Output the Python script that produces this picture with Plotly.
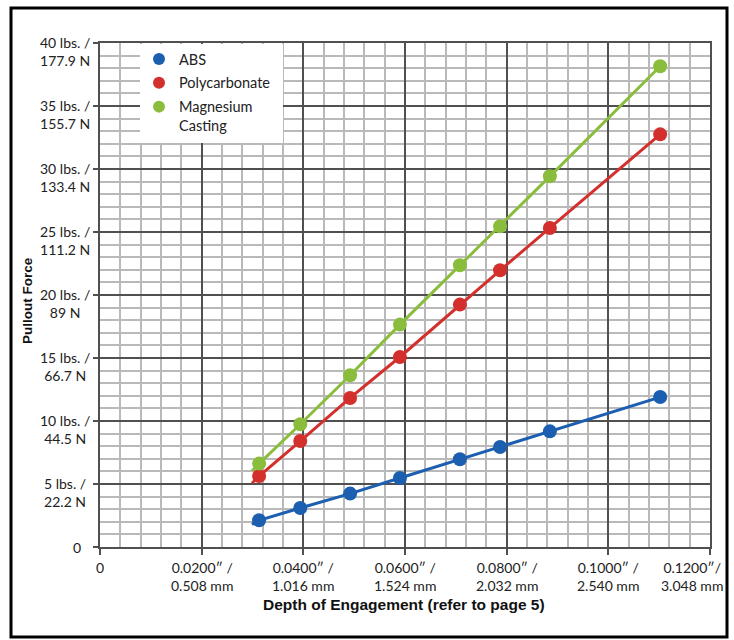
import plotly.graph_objects as go

# ---------------- data ----------------
depth_in = [0.0313, 0.0394, 0.0492, 0.0590, 0.0708, 0.0787, 0.0885, 0.1102]
abs_lbs = [2.12, 3.10, 4.24, 5.48, 6.96, 7.94, 9.18, 11.90]
pc_lbs = [5.63, 8.41, 11.83, 15.08, 19.24, 21.96, 25.32, 32.75]
mg_lbs = [6.62, 9.74, 13.63, 17.65, 22.36, 25.45, 29.42, 38.15]

# start of each drawn line (the line begins a little before the first point)
line_start_x = 0.0299
abs_line_start = 1.80
pc_line_start = 5.06
mg_line_start = 6.03

series_names = ["ABS", "Polycarbonate", "Magnesium<br>Casting"]
series_colors = ["#1c5eb0", "#d3302d", "#8bbd3d"]

y_tick_vals = [5, 10, 15, 20, 25, 30, 35, 40]
y_tick_lbs = ["5 lbs. /", "10 lbs. /", "15 lbs. /", "20 lbs. /", "25 lbs. /",
              "30 lbs. /", "35 lbs. /", "40 lbs. /"]
y_tick_n = ["22.2 N", "44.5 N", "66.7 N", "89 N", "111.2 N", "133.4 N",
            "155.7 N", "177.9 N"]

x_tick_vals = [0.02, 0.04, 0.06, 0.08, 0.10, 0.12]
x_tick_in = ["0.0200\u2033 /", "0.0400\u2033 /", "0.0600\u2033 /", "0.0800\u2033 /",
             "0.1000\u2033 /", "0.1200\u2033/"]
x_tick_mm = ["0.508 mm", "1.016 mm", "1.524 mm", "2.032 mm", "2.540 mm", "3.048 mm"]

x_title = "Depth of Engagement (refer to page 5)"
y_title = "Pullout Force"

# ---------------- layout geometry ----------------
W, H = 734, 640
ML, MR, MT, MB = 100, 24, 43, 93
PW, PH = W - ML - MR, H - MT - MB


def px_x(px):
    return (px - ML) / PW


def px_y(py):
    return (H - MB - py) / PH


LABEL_FONT = "Lato, 'Open Sans', sans-serif"
BOLD_FONT = "'Liberation Sans', Arial, sans-serif"
DARK = "#505050"

fig = go.Figure()

series = [
    (abs_lbs, abs_line_start),
    (pc_lbs, pc_line_start),
    (mg_lbs, mg_line_start),
]
for i, ((vals, start), name, color) in enumerate(zip(series, series_names, series_colors)):
    fig.add_trace(go.Scatter(
        x=[line_start_x] + depth_in, y=[start] + vals, mode="lines",
        line=dict(color=color, width=3), showlegend=False, hoverinfo="skip",
    ))
    fig.add_trace(go.Scatter(
        x=depth_in, y=vals, mode="markers", name=name,
        marker=dict(color=color, size=14), legendgroup=f"g{i}",
    ))

# tick-label annotations (two lines, centred, first line level with the tick)
annotations = []
for v, a, b in zip(y_tick_vals, y_tick_lbs, y_tick_n):
    annotations.append(dict(x=px_x(64.5), xref="paper", y=v, yref="y",
                            text=a + "<br>" + b, align="center",
                            showarrow=False, xanchor="center", yanchor="middle",
                            yshift=-8))
annotations.append(dict(x=px_x(77), xref="paper", y=0, yref="y", text="0",
                        showarrow=False, xanchor="center", yanchor="middle"))
annotations.append(dict(x=0, xref="x", y=0, yref="paper", text="0",
                        showarrow=False, xanchor="center", yanchor="middle", yshift=-20.5))
for k, (v, a, b) in enumerate(zip(x_tick_vals, x_tick_in, x_tick_mm)):
    shift = -18 if k == len(x_tick_vals) - 1 else 0
    annotations.append(dict(x=v, xref="x", y=0, yref="paper", text=a + "<br>" + b,
                            align="center", xshift=shift,
                            showarrow=False, xanchor="center", yanchor="middle", yshift=-29))
for an in annotations:
    an["font"] = dict(family=LABEL_FONT, size=14, color="#222222")

annotations.append(dict(x=px_x(404), xref="paper", y=px_y(604), yref="paper", text=x_title,
                        showarrow=False, xanchor="center", yanchor="middle",
                        font=dict(family=BOLD_FONT, size=15.5, color="#111111", weight="bold")))
annotations.append(dict(x=px_x(27), xref="paper", y=px_y(301), yref="paper", text=y_title,
                        showarrow=False, xanchor="center", yanchor="middle", textangle=-90,
                        font=dict(family=BOLD_FONT, size=13.5, color="#111111", weight="bold")))

shapes = [
    # white legend panel
    dict(type="rect", xref="paper", yref="paper", x0=px_x(140), x1=px_x(283),
         y0=px_y(143), y1=px_y(44), fillcolor="white", line=dict(width=0), layer="above"),
    # outer black frame
    dict(type="rect", xref="paper", yref="paper", x0=px_x(11), x1=px_x(727),
         y0=px_y(637), y1=px_y(8), line=dict(color="black", width=3), layer="above"),
]

fig.update_layout(
    width=W, height=H,
    margin=dict(l=ML, r=MR, t=MT, b=MB, pad=0),
    paper_bgcolor="white", plot_bgcolor="white",
    annotations=annotations, shapes=shapes,
    legend=dict(x=px_x(139), y=1, xanchor="left", yanchor="top",
                bgcolor="rgba(0,0,0,0)", font=dict(family=LABEL_FONT, size=14.5, color="#222222"),
                tracegroupgap=2, itemsizing="constant", valign="top"),
    font=dict(family=LABEL_FONT),
)
fig.update_xaxes(
    range=[0, 0.12], dtick=0.02, tick0=0, showticklabels=False,
    ticks="outside", ticklen=6, tickcolor=DARK, tickwidth=1.5,
    showgrid=True, gridcolor=DARK, gridwidth=1.5,
    showline=True, linecolor=DARK, linewidth=1.5, mirror=True, zeroline=False,
    minor=dict(dtick=0.004, tick0=0, showgrid=True, gridcolor="#b9b9b9", gridwidth=2, ticks=""),
)
fig.update_yaxes(
    range=[0, 40], dtick=5, tick0=0, showticklabels=False,
    ticks="outside", ticklen=5, tickcolor=DARK, tickwidth=1.5,
    showgrid=True, gridcolor=DARK, gridwidth=1.5,
    showline=True, linecolor=DARK, linewidth=1.5, mirror=True, zeroline=False,
    minor=dict(dtick=1, tick0=0, showgrid=True, gridcolor="#b9b9b9", gridwidth=2, ticks=""),
)

fig.write_html("out.html", config={"displayModeBar": False},
               post_script="document.body.style.margin='0';")
